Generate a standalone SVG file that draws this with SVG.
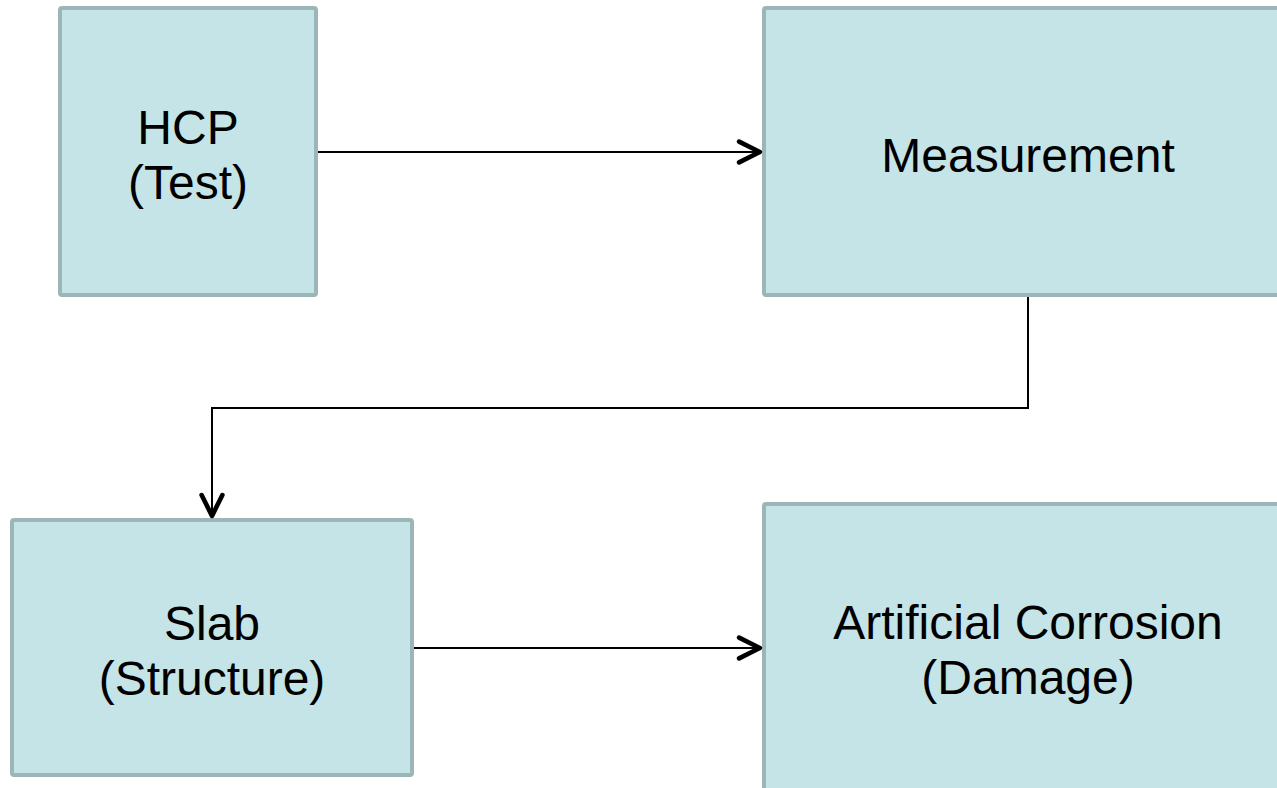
<svg xmlns="http://www.w3.org/2000/svg" width="1277" height="788" viewBox="0 0 1277 788">
<style>
.box{fill:#C4E4E7;stroke:#9BB5B9;stroke-width:4}
.lbl{font-family:"Liberation Sans",Arial,sans-serif;font-size:48px;fill:#000;text-anchor:middle}
.con{fill:none;stroke:#000;stroke-width:2}
</style>
<defs>
<marker id="arr" markerUnits="userSpaceOnUse" markerWidth="30" markerHeight="30" viewBox="-22 -12 26 24" refX="0" refY="0" orient="auto">
<path d="M-19,-9 L-1,0 L-19,9" fill="none" stroke="#000" stroke-width="4" stroke-linecap="round" stroke-linejoin="round"/>
</marker>
</defs>
<rect width="1277" height="788" fill="#fff"/>
<g id="hcp"><rect class="box" x="60" y="8" width="256" height="287" rx="2"/>
<text class="lbl" x="188" y="144">HCP</text><text class="lbl" x="188" y="199">(Test)</text></g>
<g id="measurement"><rect class="box" x="764" y="8" width="530" height="287" rx="2"/>
<text class="lbl" x="1028" y="172">Measurement</text></g>
<g id="slab"><rect class="box" x="12" y="520" width="400" height="255" rx="2"/>
<text class="lbl" x="212" y="640">Slab</text><text class="lbl" x="212" y="695">(Structure)</text></g>
<g id="corrosion"><rect class="box" x="764" y="504" width="530" height="310" rx="2"/>
<text class="lbl" x="1028" y="639">Artificial Corrosion</text><text class="lbl" x="1028" y="694">(Damage)</text></g>
<g id="connectors">
<path class="con" d="M318,152 L761,152" marker-end="url(#arr)"/>
<path class="con" d="M1028,297 L1028,408 L212,408 L212,517" marker-end="url(#arr)"/>
<path class="con" d="M414,648 L761,648" marker-end="url(#arr)"/>
</g>
</svg>
